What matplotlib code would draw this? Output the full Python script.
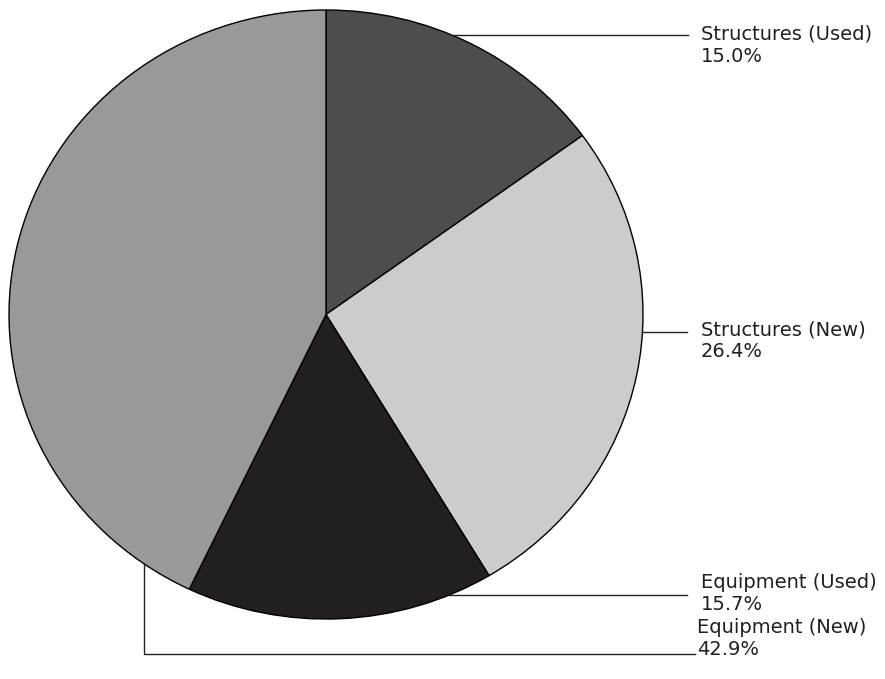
import matplotlib.pyplot as plt
import numpy as np

labels = ['Structures (Used)', 'Structures (New)', 'Equipment (Used)', 'Equipment (New)']
shares = [15.0, 26.4, 15.7, 42.9]
colors = ['#4d4d4d', '#cccccc', '#231f20', '#999999']

# figure in pixels, pie is a slightly squashed ellipse in the original
W, H = 885, 679
cx, cy, rx, ry = 326, 314.5, 317, 304.5
ink = '#231f20'
fs = 14

fig = plt.figure(figsize=(W / 100, H / 100), dpi=100)
ax = fig.add_axes([0, 0, 1, 1])
wedges, _ = ax.pie(shares, colors=colors, startangle=90, counterclock=False,
                   wedgeprops=dict(edgecolor='black', linewidth=1.0))
ax.set_aspect('auto')
ax.set_xlim(-cx / rx, (W - cx) / rx)
ax.set_ylim((cy - H) / ry, cy / ry)
ax.axis('off')

# overlay in pixel coords for the callouts
ov = fig.add_axes([0, 0, 1, 1], facecolor='none')
ov.set_xlim(0, W)
ov.set_ylim(H, 0)
ov.axis('off')


def edge_x(y, side=1):
    t = (cy - y) / ry
    return cx + side * rx * np.sqrt(max(0.0, 1 - t * t))


def edge_y(x, side=1):
    t = (x - cx) / rx
    return cy + side * ry * np.sqrt(max(0.0, 1 - t * t))


# right side callouts: leader y, line end, text x, first baseline
right = [(35, 688, 701, 40), (332, 687, 701, 335), (595, 687, 701, 588)]
for i, (ly, lx, tx, by) in enumerate(right):
    ov.plot([edge_x(ly), lx], [ly, ly], color=ink, lw=1)
    ov.text(tx, by, labels[i], fontsize=fs, color=ink, va='baseline')
    ov.text(tx, by + 22, '%.1f%%' % shares[i], fontsize=fs, color=ink, va='baseline')

# equipment (new) goes down and around
vx, hy = 144, 654
ov.plot([vx, vx, 695], [edge_y(vx), hy, hy], color=ink, lw=1)
ov.text(697, 633, labels[3], fontsize=fs, color=ink, va='baseline')
ov.text(697, 655, '%.1f%%' % shares[3], fontsize=fs, color=ink, va='baseline')

plt.savefig('out.png', dpi=100)
